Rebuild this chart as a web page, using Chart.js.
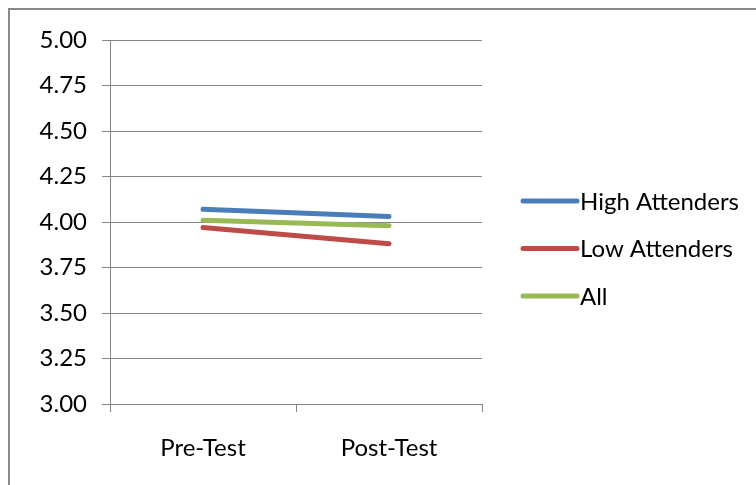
<!DOCTYPE html>
<html>
<head>
<meta charset="utf-8">
<script src="https://cdn.jsdelivr.net/npm/chart.js@4/dist/chart.umd.min.js"></script>
<style>
  html, body { margin: 0; padding: 0; background: #ffffff; }
  #wrap { width: 756px; height: 485px; }
</style>
</head>
<body>
<div id="wrap"><canvas id="c" width="756" height="485"></canvas></div>
<script>
// Mean scores before and after the programme, by attendance group
const categories = ['Pre-Test', 'Post-Test'];
const highAttenders = [4.07, 4.03];
const lowAttenders = [3.97, 3.88];
const allParticipants = [4.01, 3.98];
const seriesNames = ['High Attenders', 'Low Attenders', 'All'];
const seriesColors = ['#4A7EBB', '#BE4B48', '#98B954'];
const yMin = 3.0, yMax = 5.0, yStep = 0.25;

const FONT = 'Lato, "Liberation Sans", sans-serif';
const AXIS_GREY = '#868686';

// Outer chart frame
const framePlugin = {
  id: 'frame',
  beforeDraw(chart) {
    const ctx = chart.ctx;
    ctx.save();
    ctx.fillStyle = '#ffffff';
    ctx.fillRect(0, 0, chart.width, chart.height);
    ctx.strokeStyle = '#8a8a8a';
    ctx.lineWidth = 2;
    ctx.strokeRect(9, 9, chart.width + 20, chart.height + 20);
    ctx.restore();
  }
};

// Line-sample legend to the right of the plot
const sideLegend = {
  id: 'sideLegend',
  afterDraw(chart) {
    const ctx = chart.ctx;
    ctx.save();
    ctx.font = '24px ' + FONT;
    ctx.textBaseline = 'middle';
    ctx.textAlign = 'left';
    chart.data.datasets.forEach((ds, i) => {
      const y = 201 + i * 47.5;
      ctx.strokeStyle = ds.borderColor;
      ctx.lineWidth = 5;
      ctx.lineCap = 'round';
      ctx.beginPath();
      ctx.moveTo(523, y);
      ctx.lineTo(577, y);
      ctx.stroke();
      ctx.fillStyle = '#000000';
      ctx.fillText(ds.label, 580, y + 1);
    });
    ctx.restore();
  }
};

const seriesData = [highAttenders, lowAttenders, allParticipants];

new Chart(document.getElementById('c'), {
  type: 'line',
  data: {
    labels: categories,
    datasets: seriesData.map((d, i) => ({
      label: seriesNames[i],
      data: d,
      borderColor: seriesColors[i],
      backgroundColor: seriesColors[i],
      borderWidth: 5,
      borderCapStyle: 'round',
      pointRadius: 0,
      pointHoverRadius: 0,
      tension: 0,
      fill: false
    }))
  },
  options: {
    responsive: false,
    animation: false,
    events: [],
    layout: { padding: { left: 0, top: 40, right: 274, bottom: 0 } },
    plugins: {
      legend: { display: false },
      tooltip: { enabled: false },
      title: { display: false }
    },
    scales: {
      x: {
        type: 'category',
        offset: true,
        grid: {
          offset: true,
          drawOnChartArea: false,
          drawTicks: true,
          tickLength: 8,
          color: AXIS_GREY,
          lineWidth: 1
        },
        border: { color: AXIS_GREY, width: 1 },
        ticks: {
          color: '#000000',
          font: { family: FONT, size: 24 },
          padding: 22,
          maxRotation: 0
        },
        afterFit(scale) { scale.height = 81; }
      },
      y: {
        min: yMin,
        max: yMax,
        grid: {
          color: AXIS_GREY,
          lineWidth: 1,
          tickLength: 8
        },
        border: { color: AXIS_GREY, width: 1 },
        ticks: {
          stepSize: yStep,
          color: '#000000',
          font: { family: FONT, size: 24 },
          padding: 15,
          callback: (v) => Number(v).toFixed(2)
        },
        afterFit(scale) { scale.width = 110; }
      }
    }
  },
  plugins: [framePlugin, sideLegend]
});
</script>
</body>
</html>
